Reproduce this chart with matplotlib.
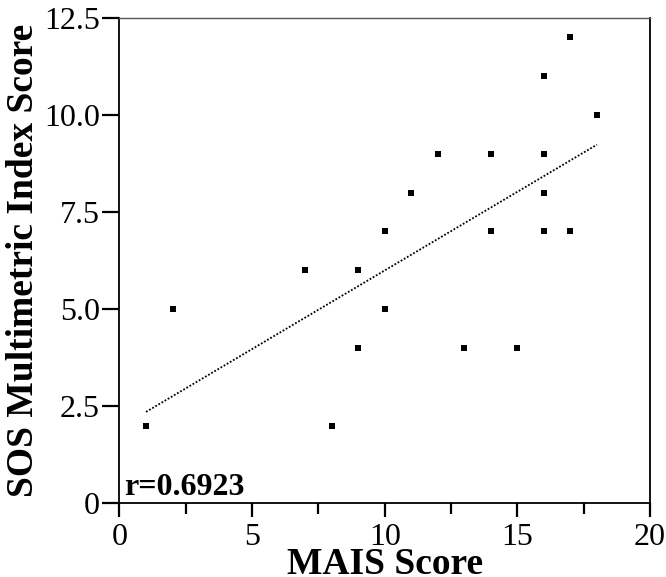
import numpy as np
import matplotlib
matplotlib.use("Agg")
import matplotlib.pyplot as plt
from matplotlib.ticker import MultipleLocator

mais = [1, 2, 7, 8, 9, 9, 10, 10, 11, 12, 13, 14, 14, 15, 16, 16, 16, 16, 17, 17, 18]
sos = [2, 5, 6, 2, 6, 4, 7, 5, 8, 9, 4, 9, 7, 4, 11, 9, 8, 7, 7, 12, 10]
fit_slope = 0.405
fit_intercept = 1.945
fit_range = [1, 18]
r_text = "r=0.6923"
xticks = [0, 5, 10, 15, 20]
yticks = [0, 2.5, 5.0, 7.5, 10.0, 12.5]
ytick_labels = ["0", "2.5", "5.0", "7.5", "10.0", "12.5"]

plt.rcParams['font.family'] = ['Liberation Serif', 'DejaVu Serif']

fig = plt.figure(figsize=(6.66, 5.77), dpi=100)
ax = fig.add_axes([0.1794, 0.128, 0.7966, 0.841])

xl = np.array(fit_range, float)
ax.plot(xl, fit_slope * xl + fit_intercept, color='black', lw=1.3, ls=(0, (1, 1.0)))
ax.scatter(mais, sos, marker='s', s=14, color='black', linewidths=0, zorder=3)

ax.set_xlim(0, 20)
ax.set_ylim(0, 12.5)
ax.set_xticks(xticks)
ax.xaxis.set_minor_locator(MultipleLocator(2.5))
ax.set_yticks(yticks)
ax.set_yticklabels(ytick_labels)
ax.tick_params(axis='x', which='major', direction='out', length=10, width=1.6,
               labelsize=23, pad=4)
ax.tick_params(axis='x', which='minor', direction='out', length=8, width=1.6)
ax.tick_params(axis='y', which='major', direction='out', length=12, width=1.6,
               labelsize=23, pad=2)
for s in ax.spines.values():
    s.set_linewidth(1.3)
ax.spines['top'].set_color('#555555')
ax.spines['top'].set_linewidth(1.0)

ax.set_xlabel("MAIS Score", fontsize=27, fontweight='bold', labelpad=-3)
ax.set_ylabel("SOS Multimetric Index Score", fontsize=27, fontweight='bold', labelpad=2)
ax.text(0.008, 0.002, r_text, transform=ax.transAxes, fontsize=23,
        fontweight='bold', ha='left', va='bottom')

fig.savefig("out.png", dpi=100)
